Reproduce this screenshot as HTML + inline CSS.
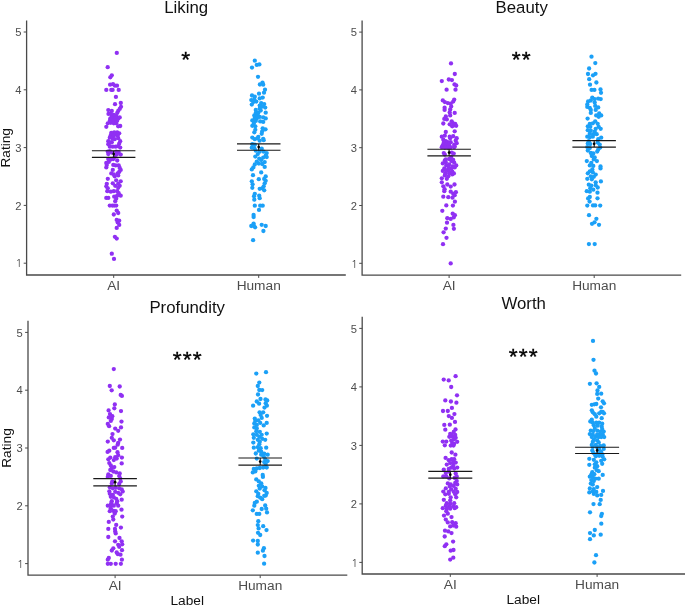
<!DOCTYPE html><html><head><meta charset="utf-8"><title>Ratings by Label</title>
<style>html,body{margin:0;padding:0;background:#fff}svg{display:block}#w{will-change:transform;width:685px;height:606px;overflow:hidden}text{font-family:"Liberation Sans",Arial,sans-serif}</style></head><body><div id="w">
<svg width="685" height="606" viewBox="0 0 685 606">
<rect width="685" height="606" fill="#fff"/>
<g id="TL">
<g fill="#9030F3">
<circle cx="111.8" cy="75.3" r="2.15"/><circle cx="115.2" cy="185.8" r="2.15"/><circle cx="119.7" cy="185.8" r="2.15"/><circle cx="106.8" cy="183.8" r="2.15"/><circle cx="118.2" cy="183.8" r="2.15"/><circle cx="106.3" cy="186.3" r="2.15"/><circle cx="116.7" cy="238.6" r="2.15"/><circle cx="112.8" cy="183.3" r="2.15"/><circle cx="110.3" cy="77.3" r="2.15"/><circle cx="114.2" cy="132.3" r="2.15"/><circle cx="117.2" cy="132.3" r="2.15"/><circle cx="111.3" cy="132.8" r="2.15"/><circle cx="118.2" cy="187.8" r="2.15"/><circle cx="106.3" cy="126.8" r="2.15"/><circle cx="114.9" cy="236.8" r="2.15"/><circle cx="119.2" cy="133.3" r="2.15"/><circle cx="107.8" cy="188.3" r="2.15"/><circle cx="118.2" cy="126.3" r="2.15"/><circle cx="120.7" cy="181.3" r="2.15"/><circle cx="120.2" cy="126.0" r="2.15"/><circle cx="116.2" cy="180.3" r="2.15"/><circle cx="115.2" cy="134.7" r="2.15"/><circle cx="110.8" cy="135.2" r="2.15"/><circle cx="113.3" cy="135.7" r="2.15"/><circle cx="117.7" cy="135.7" r="2.15"/><circle cx="107.8" cy="178.8" r="2.15"/><circle cx="107.3" cy="191.2" r="2.15"/><circle cx="113.8" cy="191.2" r="2.15"/><circle cx="117.2" cy="191.2" r="2.15"/><circle cx="107.8" cy="123.3" r="2.15"/><circle cx="113.8" cy="123.3" r="2.15"/><circle cx="116.2" cy="123.3" r="2.15"/><circle cx="110.8" cy="191.7" r="2.15"/><circle cx="110.8" cy="122.8" r="2.15"/><circle cx="107.7" cy="67.2" r="2.15"/><circle cx="109.8" cy="137.7" r="2.15"/><circle cx="118.2" cy="138.2" r="2.15"/><circle cx="118.7" cy="193.2" r="2.15"/><circle cx="112.8" cy="121.3" r="2.15"/><circle cx="114.7" cy="176.3" r="2.15"/><circle cx="112.8" cy="138.7" r="2.15"/><circle cx="109.8" cy="120.8" r="2.15"/><circle cx="117.2" cy="120.8" r="2.15"/><circle cx="113.0" cy="84.2" r="2.15"/><circle cx="114.7" cy="139.2" r="2.15"/><circle cx="114.7" cy="120.4" r="2.15"/><circle cx="118.2" cy="175.4" r="2.15"/><circle cx="110.1" cy="84.7" r="2.15"/><circle cx="112.8" cy="119.4" r="2.15"/><circle cx="113.8" cy="174.4" r="2.15"/><circle cx="114.9" cy="85.7" r="2.15"/><circle cx="117.0" cy="85.7" r="2.15"/><circle cx="120.7" cy="195.7" r="2.15"/><circle cx="117.2" cy="195.7" r="2.15"/><circle cx="115.7" cy="118.9" r="2.15"/><circle cx="108.3" cy="141.2" r="2.15"/><circle cx="120.2" cy="141.2" r="2.15"/><circle cx="118.2" cy="118.4" r="2.15"/><circle cx="110.3" cy="118.4" r="2.15"/><circle cx="111.3" cy="173.4" r="2.15"/><circle cx="117.7" cy="173.4" r="2.15"/><circle cx="114.2" cy="196.7" r="2.15"/><circle cx="116.7" cy="227.9" r="2.15"/><circle cx="111.8" cy="142.2" r="2.15"/><circle cx="119.7" cy="117.4" r="2.15"/><circle cx="110.3" cy="142.7" r="2.15"/><circle cx="106.3" cy="197.9" r="2.15"/><circle cx="108.3" cy="197.9" r="2.15"/><circle cx="113.8" cy="116.9" r="2.15"/><circle cx="119.2" cy="171.9" r="2.15"/><circle cx="119.2" cy="143.7" r="2.15"/><circle cx="116.2" cy="198.7" r="2.15"/><circle cx="111.8" cy="253.7" r="2.15"/><circle cx="116.2" cy="115.9" r="2.15"/><circle cx="111.8" cy="115.9" r="2.15"/><circle cx="108.3" cy="144.2" r="2.15"/><circle cx="106.3" cy="89.9" r="2.15"/><circle cx="111.3" cy="89.9" r="2.15"/><circle cx="112.6" cy="89.9" r="2.15"/><circle cx="118.7" cy="89.9" r="2.15"/><circle cx="113.8" cy="114.9" r="2.15"/><circle cx="112.8" cy="169.9" r="2.15"/><circle cx="120.7" cy="169.9" r="2.15"/><circle cx="119.2" cy="224.9" r="2.15"/><circle cx="108.5" cy="113.9" r="2.15"/><circle cx="118.2" cy="146.2" r="2.15"/><circle cx="115.2" cy="201.2" r="2.15"/><circle cx="110.8" cy="113.4" r="2.15"/><circle cx="109.8" cy="146.7" r="2.15"/><circle cx="112.8" cy="146.7" r="2.15"/><circle cx="115.7" cy="146.7" r="2.15"/><circle cx="117.2" cy="112.9" r="2.15"/><circle cx="119.7" cy="167.9" r="2.15"/><circle cx="106.3" cy="167.4" r="2.15"/><circle cx="117.7" cy="222.4" r="2.15"/><circle cx="120.2" cy="147.6" r="2.15"/><circle cx="114.0" cy="258.9" r="2.15"/><circle cx="118.2" cy="110.9" r="2.15"/><circle cx="111.8" cy="110.9" r="2.15"/><circle cx="119.2" cy="220.7" r="2.15"/><circle cx="115.7" cy="165.4" r="2.15"/><circle cx="118.7" cy="165.4" r="2.15"/><circle cx="108.3" cy="110.1" r="2.15"/><circle cx="106.8" cy="164.9" r="2.15"/><circle cx="113.3" cy="164.9" r="2.15"/><circle cx="116.7" cy="219.9" r="2.15"/><circle cx="109.8" cy="205.6" r="2.15"/><circle cx="112.3" cy="205.6" r="2.15"/><circle cx="114.2" cy="205.6" r="2.15"/><circle cx="116.2" cy="205.6" r="2.15"/><circle cx="119.7" cy="108.9" r="2.15"/><circle cx="109.8" cy="151.1" r="2.15"/><circle cx="107.8" cy="151.6" r="2.15"/><circle cx="116.2" cy="151.6" r="2.15"/><circle cx="115.9" cy="96.9" r="2.15"/><circle cx="116.8" cy="52.9" r="2.15"/><circle cx="106.3" cy="162.9" r="2.15"/><circle cx="118.7" cy="152.1" r="2.15"/><circle cx="111.8" cy="152.6" r="2.15"/><circle cx="108.8" cy="161.9" r="2.15"/><circle cx="121.0" cy="106.8" r="2.15"/><circle cx="108.3" cy="154.1" r="2.15"/><circle cx="117.2" cy="160.5" r="2.15"/><circle cx="116.7" cy="154.6" r="2.15"/><circle cx="120.7" cy="154.6" r="2.15"/><circle cx="110.8" cy="159.5" r="2.15"/><circle cx="113.8" cy="214.5" r="2.15"/><circle cx="116.7" cy="210.6" r="2.15"/><circle cx="115.0" cy="104.2" r="2.15"/><circle cx="108.3" cy="159.0" r="2.15"/><circle cx="113.3" cy="159.0" r="2.15"/><circle cx="120.8" cy="103.0" r="2.15"/><circle cx="118.2" cy="213.0" r="2.15"/><circle cx="114.7" cy="157.1" r="2.15"/>
</g>
<g fill="#1BA0F7">
<circle cx="264.2" cy="190.3" r="2.15"/><circle cx="263.4" cy="231.0" r="2.15"/><circle cx="261.7" cy="133.8" r="2.15"/><circle cx="259.7" cy="188.8" r="2.15"/><circle cx="262.2" cy="188.3" r="2.15"/><circle cx="258.3" cy="137.0" r="2.15"/><circle cx="252.3" cy="187.8" r="2.15"/><circle cx="262.5" cy="82.6" r="2.15"/><circle cx="252.3" cy="137.6" r="2.15"/><circle cx="254.3" cy="132.3" r="2.15"/><circle cx="255.1" cy="227.3" r="2.15"/><circle cx="258.0" cy="76.8" r="2.15"/><circle cx="257.3" cy="138.3" r="2.15"/><circle cx="262.2" cy="131.3" r="2.15"/><circle cx="263.7" cy="186.3" r="2.15"/><circle cx="263.2" cy="138.8" r="2.15"/><circle cx="254.8" cy="193.8" r="2.15"/><circle cx="251.3" cy="226.0" r="2.15"/><circle cx="265.7" cy="226.0" r="2.15"/><circle cx="253.8" cy="225.8" r="2.15"/><circle cx="254.8" cy="139.2" r="2.15"/><circle cx="259.9" cy="84.5" r="2.15"/><circle cx="263.2" cy="84.7" r="2.15"/><circle cx="255.3" cy="129.8" r="2.15"/><circle cx="261.7" cy="224.8" r="2.15"/><circle cx="263.7" cy="140.2" r="2.15"/><circle cx="265.5" cy="129.3" r="2.15"/><circle cx="252.6" cy="184.3" r="2.15"/><circle cx="259.7" cy="140.7" r="2.15"/><circle cx="259.2" cy="195.7" r="2.15"/><circle cx="254.0" cy="196.2" r="2.15"/><circle cx="253.6" cy="223.6" r="2.15"/><circle cx="262.7" cy="128.3" r="2.15"/><circle cx="264.7" cy="183.3" r="2.15"/><circle cx="259.7" cy="198.2" r="2.15"/><circle cx="255.3" cy="126.3" r="2.15"/><circle cx="251.8" cy="181.3" r="2.15"/><circle cx="252.3" cy="125.8" r="2.15"/><circle cx="265.7" cy="180.8" r="2.15"/><circle cx="252.3" cy="144.2" r="2.15"/><circle cx="265.0" cy="89.7" r="2.15"/><circle cx="254.8" cy="144.7" r="2.15"/><circle cx="254.3" cy="199.7" r="2.15"/><circle cx="253.1" cy="240.2" r="2.15"/><circle cx="258.8" cy="179.2" r="2.15"/><circle cx="264.2" cy="178.9" r="2.15"/><circle cx="253.8" cy="123.4" r="2.15"/><circle cx="252.0" cy="67.6" r="2.15"/><circle cx="264.0" cy="92.7" r="2.15"/><circle cx="251.8" cy="147.7" r="2.15"/><circle cx="253.6" cy="217.1" r="2.15"/><circle cx="263.2" cy="121.9" r="2.15"/><circle cx="254.3" cy="148.2" r="2.15"/><circle cx="260.2" cy="121.4" r="2.15"/><circle cx="265.7" cy="176.4" r="2.15"/><circle cx="259.0" cy="93.7" r="2.15"/><circle cx="261.7" cy="148.7" r="2.15"/><circle cx="255.8" cy="120.9" r="2.15"/><circle cx="252.3" cy="120.4" r="2.15"/><circle cx="253.0" cy="175.2" r="2.15"/><circle cx="256.8" cy="64.9" r="2.15"/><circle cx="253.6" cy="214.9" r="2.15"/><circle cx="252.0" cy="95.5" r="2.15"/><circle cx="259.4" cy="64.4" r="2.15"/><circle cx="255.8" cy="150.7" r="2.15"/><circle cx="254.8" cy="205.7" r="2.15"/><circle cx="260.2" cy="205.7" r="2.15"/><circle cx="262.7" cy="205.7" r="2.15"/><circle cx="265.7" cy="118.4" r="2.15"/><circle cx="256.8" cy="118.4" r="2.15"/><circle cx="254.8" cy="96.7" r="2.15"/><circle cx="259.7" cy="151.7" r="2.15"/><circle cx="263.7" cy="151.7" r="2.15"/><circle cx="254.8" cy="117.9" r="2.15"/><circle cx="263.2" cy="117.4" r="2.15"/><circle cx="261.2" cy="172.4" r="2.15"/><circle cx="262.7" cy="97.6" r="2.15"/><circle cx="259.7" cy="116.9" r="2.15"/><circle cx="266.7" cy="153.1" r="2.15"/><circle cx="259.7" cy="98.4" r="2.15"/><circle cx="257.8" cy="154.1" r="2.15"/><circle cx="254.8" cy="60.7" r="2.15"/><circle cx="254.3" cy="115.4" r="2.15"/><circle cx="257.8" cy="115.4" r="2.15"/><circle cx="254.3" cy="99.6" r="2.15"/><circle cx="259.0" cy="209.9" r="2.15"/><circle cx="251.3" cy="100.1" r="2.15"/><circle cx="251.8" cy="169.4" r="2.15"/><circle cx="265.7" cy="155.6" r="2.15"/><circle cx="256.3" cy="101.6" r="2.15"/><circle cx="255.3" cy="156.6" r="2.15"/><circle cx="255.8" cy="112.9" r="2.15"/><circle cx="253.3" cy="102.1" r="2.15"/><circle cx="266.7" cy="157.1" r="2.15"/><circle cx="265.7" cy="112.7" r="2.15"/><circle cx="258.3" cy="112.7" r="2.15"/><circle cx="253.3" cy="167.4" r="2.15"/><circle cx="263.2" cy="157.6" r="2.15"/><circle cx="264.7" cy="166.9" r="2.15"/><circle cx="261.2" cy="103.1" r="2.15"/><circle cx="259.2" cy="158.6" r="2.15"/><circle cx="264.2" cy="104.1" r="2.15"/><circle cx="260.7" cy="110.5" r="2.15"/><circle cx="251.8" cy="104.6" r="2.15"/><circle cx="255.8" cy="110.0" r="2.15"/><circle cx="261.2" cy="160.1" r="2.15"/><circle cx="254.8" cy="164.5" r="2.15"/><circle cx="259.7" cy="105.6" r="2.15"/><circle cx="262.2" cy="164.0" r="2.15"/><circle cx="258.8" cy="163.5" r="2.15"/><circle cx="262.2" cy="106.6" r="2.15"/><circle cx="256.8" cy="161.6" r="2.15"/><circle cx="264.7" cy="162.1" r="2.15"/><circle cx="265.2" cy="107.6" r="2.15"/><circle cx="259.7" cy="108.6" r="2.15"/>
</g>
<g stroke="#181818" stroke-width="1.15" fill="none">
<line x1="91.9" x2="135.4" y1="150.7" y2="150.7"/><line x1="91.9" x2="135.4" y1="157.4" y2="157.4"/><line x1="113.7" x2="113.7" y1="150.7" y2="157.4"/>
</g>
<circle cx="113.7" cy="154.1" r="1.35" fill="#000"/>
<g stroke="#181818" stroke-width="1.15" fill="none">
<line x1="237.0" x2="280.5" y1="143.9" y2="143.9"/><line x1="237.0" x2="280.5" y1="150.2" y2="150.2"/><line x1="258.7" x2="258.7" y1="143.9" y2="150.2"/>
</g>
<circle cx="258.7" cy="147.1" r="1.35" fill="#000"/>
<path d="M26.6 20.5V275.0H345.8" fill="none" stroke="#4a4a4a" stroke-width="1.3"/>
<line x1="23.7" x2="26.6" y1="263.2" y2="263.2" stroke="#4a4a4a" stroke-width="1"/>
<text x="22.4" y="267" font-size="11.2" fill="#4D4D4D" text-anchor="end" style="font-family:'NanumGothic','Liberation Sans',sans-serif">1</text>
<line x1="23.7" x2="26.6" y1="205.4" y2="205.4" stroke="#4a4a4a" stroke-width="1"/>
<text x="21.4" y="210" font-size="11.2" fill="#4D4D4D" text-anchor="end">2</text>
<line x1="23.7" x2="26.6" y1="147.6" y2="147.6" stroke="#4a4a4a" stroke-width="1"/>
<text x="21.4" y="152" font-size="11.2" fill="#4D4D4D" text-anchor="end">3</text>
<line x1="23.7" x2="26.6" y1="89.8" y2="89.8" stroke="#4a4a4a" stroke-width="1"/>
<text x="21.4" y="94" font-size="11.2" fill="#4D4D4D" text-anchor="end">4</text>
<line x1="23.7" x2="26.6" y1="32.0" y2="32.0" stroke="#4a4a4a" stroke-width="1"/>
<text x="21.4" y="36" font-size="11.2" fill="#4D4D4D" text-anchor="end">5</text>
<line x1="113.7" x2="113.7" y1="275.0" y2="277.9" stroke="#4a4a4a" stroke-width="1"/>
<text x="113.7" y="290.0" font-size="13.7" fill="#4D4D4D" text-anchor="middle">AI</text>
<line x1="258.7" x2="258.7" y1="275.0" y2="277.9" stroke="#4a4a4a" stroke-width="1"/>
<text x="258.7" y="290.0" font-size="13.7" fill="#4D4D4D" text-anchor="middle">Human</text>
<text x="186.2" y="12.7" font-size="16.8" fill="#111" text-anchor="middle">Liking</text>
<text x="186.3" y="67" font-size="22.8" fill="#000" stroke="#000" stroke-width="0.35" letter-spacing="1.15" text-anchor="middle">*</text>
<text transform="translate(10.2,147.8) rotate(-90)" font-size="13.7" fill="#111" text-anchor="middle">Rating</text>
</g>
<g id="TR">
<g fill="#9030F3">
<circle cx="451.9" cy="80.1" r="2.15"/><circle cx="448.8" cy="79.5" r="2.15"/><circle cx="447.3" cy="184.5" r="2.15"/><circle cx="454.5" cy="184.5" r="2.15"/><circle cx="441.8" cy="81.1" r="2.15"/><circle cx="454.7" cy="131.3" r="2.15"/><circle cx="443.3" cy="186.3" r="2.15"/><circle cx="450.7" cy="186.6" r="2.15"/><circle cx="445.8" cy="132.0" r="2.15"/><circle cx="441.8" cy="182.3" r="2.15"/><circle cx="443.6" cy="232.3" r="2.15"/><circle cx="446.5" cy="237.8" r="2.15"/><circle cx="452.2" cy="126.3" r="2.15"/><circle cx="456.2" cy="125.8" r="2.15"/><circle cx="444.6" cy="189.2" r="2.15"/><circle cx="454.5" cy="84.4" r="2.15"/><circle cx="454.2" cy="125.3" r="2.15"/><circle cx="456.2" cy="85.5" r="2.15"/><circle cx="449.7" cy="124.3" r="2.15"/><circle cx="444.8" cy="135.7" r="2.15"/><circle cx="454.8" cy="74.0" r="2.15"/><circle cx="455.2" cy="123.8" r="2.15"/><circle cx="446.8" cy="178.8" r="2.15"/><circle cx="453.9" cy="228.8" r="2.15"/><circle cx="453.2" cy="136.2" r="2.15"/><circle cx="444.3" cy="191.2" r="2.15"/><circle cx="445.8" cy="228.6" r="2.15"/><circle cx="443.3" cy="123.5" r="2.15"/><circle cx="441.8" cy="178.3" r="2.15"/><circle cx="453.2" cy="123.3" r="2.15"/><circle cx="441.8" cy="136.7" r="2.15"/><circle cx="449.7" cy="136.7" r="2.15"/><circle cx="450.7" cy="191.7" r="2.15"/><circle cx="455.9" cy="192.2" r="2.15"/><circle cx="456.7" cy="138.2" r="2.15"/><circle cx="450.2" cy="138.2" r="2.15"/><circle cx="451.7" cy="121.3" r="2.15"/><circle cx="448.3" cy="176.3" r="2.15"/><circle cx="453.2" cy="193.7" r="2.15"/><circle cx="443.0" cy="244.2" r="2.15"/><circle cx="444.8" cy="175.4" r="2.15"/><circle cx="446.6" cy="89.7" r="2.15"/><circle cx="455.5" cy="89.7" r="2.15"/><circle cx="443.3" cy="139.7" r="2.15"/><circle cx="453.4" cy="224.9" r="2.15"/><circle cx="454.7" cy="195.2" r="2.15"/><circle cx="446.8" cy="119.4" r="2.15"/><circle cx="452.2" cy="174.4" r="2.15"/><circle cx="455.7" cy="140.7" r="2.15"/><circle cx="444.3" cy="118.9" r="2.15"/><circle cx="445.8" cy="141.2" r="2.15"/><circle cx="445.3" cy="173.4" r="2.15"/><circle cx="449.2" cy="173.4" r="2.15"/><circle cx="453.9" cy="173.4" r="2.15"/><circle cx="443.3" cy="196.7" r="2.15"/><circle cx="447.8" cy="142.2" r="2.15"/><circle cx="450.7" cy="142.2" r="2.15"/><circle cx="448.3" cy="197.2" r="2.15"/><circle cx="447.0" cy="222.7" r="2.15"/><circle cx="450.2" cy="172.4" r="2.15"/><circle cx="443.8" cy="142.7" r="2.15"/><circle cx="452.5" cy="197.7" r="2.15"/><circle cx="456.7" cy="143.2" r="2.15"/><circle cx="445.8" cy="116.4" r="2.15"/><circle cx="452.2" cy="171.4" r="2.15"/><circle cx="449.2" cy="143.7" r="2.15"/><circle cx="442.8" cy="170.9" r="2.15"/><circle cx="448.3" cy="170.9" r="2.15"/><circle cx="450.2" cy="115.4" r="2.15"/><circle cx="445.8" cy="144.7" r="2.15"/><circle cx="454.2" cy="144.7" r="2.15"/><circle cx="445.8" cy="170.1" r="2.15"/><circle cx="442.8" cy="145.2" r="2.15"/><circle cx="449.2" cy="145.2" r="2.15"/><circle cx="450.7" cy="218.9" r="2.15"/><circle cx="454.7" cy="146.2" r="2.15"/><circle cx="446.8" cy="146.2" r="2.15"/><circle cx="451.0" cy="63.4" r="2.15"/><circle cx="444.3" cy="168.4" r="2.15"/><circle cx="451.2" cy="168.4" r="2.15"/><circle cx="454.9" cy="201.7" r="2.15"/><circle cx="447.3" cy="218.2" r="2.15"/><circle cx="454.7" cy="112.9" r="2.15"/><circle cx="448.8" cy="167.9" r="2.15"/><circle cx="441.8" cy="147.2" r="2.15"/><circle cx="454.2" cy="147.2" r="2.15"/><circle cx="447.8" cy="147.5" r="2.15"/><circle cx="450.7" cy="147.5" r="2.15"/><circle cx="449.7" cy="112.4" r="2.15"/><circle cx="453.7" cy="217.4" r="2.15"/><circle cx="454.7" cy="167.4" r="2.15"/><circle cx="444.8" cy="147.6" r="2.15"/><circle cx="452.7" cy="166.4" r="2.15"/><circle cx="456.2" cy="165.4" r="2.15"/><circle cx="446.3" cy="165.4" r="2.15"/><circle cx="454.2" cy="99.6" r="2.15"/><circle cx="454.9" cy="215.2" r="2.15"/><circle cx="444.6" cy="109.9" r="2.15"/><circle cx="442.8" cy="100.4" r="2.15"/><circle cx="446.3" cy="205.4" r="2.15"/><circle cx="450.2" cy="109.4" r="2.15"/><circle cx="449.2" cy="164.4" r="2.15"/><circle cx="452.9" cy="205.6" r="2.15"/><circle cx="452.7" cy="213.7" r="2.15"/><circle cx="442.8" cy="163.4" r="2.15"/><circle cx="453.2" cy="101.6" r="2.15"/><circle cx="444.8" cy="102.1" r="2.15"/><circle cx="444.6" cy="107.7" r="2.15"/><circle cx="454.2" cy="162.7" r="2.15"/><circle cx="445.8" cy="162.4" r="2.15"/><circle cx="451.7" cy="152.6" r="2.15"/><circle cx="447.8" cy="103.1" r="2.15"/><circle cx="443.8" cy="153.1" r="2.15"/><circle cx="451.2" cy="106.5" r="2.15"/><circle cx="450.7" cy="103.6" r="2.15"/><circle cx="453.7" cy="153.6" r="2.15"/><circle cx="451.7" cy="161.2" r="2.15"/><circle cx="442.3" cy="210.8" r="2.15"/><circle cx="444.8" cy="160.5" r="2.15"/><circle cx="444.8" cy="154.6" r="2.15"/><circle cx="453.2" cy="160.0" r="2.15"/><circle cx="445.8" cy="159.5" r="2.15"/><circle cx="449.2" cy="159.0" r="2.15"/><circle cx="451.2" cy="157.1" r="2.15"/><circle cx="450.7" cy="263.4" r="2.15"/>
</g>
<g fill="#1BA0F7">
<circle cx="599.0" cy="224.8" r="2.15"/><circle cx="593.0" cy="75.3" r="2.15"/><circle cx="591.8" cy="179.3" r="2.15"/><circle cx="588.0" cy="74.0" r="2.15"/><circle cx="595.5" cy="73.8" r="2.15"/><circle cx="589.8" cy="123.8" r="2.15"/><circle cx="597.7" cy="123.8" r="2.15"/><circle cx="587.3" cy="178.8" r="2.15"/><circle cx="592.0" cy="223.8" r="2.15"/><circle cx="587.8" cy="126.3" r="2.15"/><circle cx="600.9" cy="181.4" r="2.15"/><circle cx="592.8" cy="123.3" r="2.15"/><circle cx="590.3" cy="126.8" r="2.15"/><circle cx="598.7" cy="126.8" r="2.15"/><circle cx="595.7" cy="182.3" r="2.15"/><circle cx="594.5" cy="222.3" r="2.15"/><circle cx="593.8" cy="176.8" r="2.15"/><circle cx="595.2" cy="121.3" r="2.15"/><circle cx="590.8" cy="176.3" r="2.15"/><circle cx="595.7" cy="128.8" r="2.15"/><circle cx="600.7" cy="128.8" r="2.15"/><circle cx="589.2" cy="79.2" r="2.15"/><circle cx="588.8" cy="184.7" r="2.15"/><circle cx="587.8" cy="130.2" r="2.15"/><circle cx="595.7" cy="185.2" r="2.15"/><circle cx="595.7" cy="174.6" r="2.15"/><circle cx="590.8" cy="130.7" r="2.15"/><circle cx="591.3" cy="185.7" r="2.15"/><circle cx="596.4" cy="218.8" r="2.15"/><circle cx="587.6" cy="118.6" r="2.15"/><circle cx="589.1" cy="68.5" r="2.15"/><circle cx="587.8" cy="173.3" r="2.15"/><circle cx="594.7" cy="131.7" r="2.15"/><circle cx="596.4" cy="82.5" r="2.15"/><circle cx="597.7" cy="187.5" r="2.15"/><circle cx="592.8" cy="172.3" r="2.15"/><circle cx="598.7" cy="116.8" r="2.15"/><circle cx="590.3" cy="188.2" r="2.15"/><circle cx="589.8" cy="171.3" r="2.15"/><circle cx="589.8" cy="133.7" r="2.15"/><circle cx="593.3" cy="134.2" r="2.15"/><circle cx="596.7" cy="134.2" r="2.15"/><circle cx="601.2" cy="115.4" r="2.15"/><circle cx="596.2" cy="115.4" r="2.15"/><circle cx="590.0" cy="84.7" r="2.15"/><circle cx="593.3" cy="189.7" r="2.15"/><circle cx="589.0" cy="215.2" r="2.15"/><circle cx="592.3" cy="169.4" r="2.15"/><circle cx="586.8" cy="191.2" r="2.15"/><circle cx="599.2" cy="113.4" r="2.15"/><circle cx="600.5" cy="168.4" r="2.15"/><circle cx="587.3" cy="136.7" r="2.15"/><circle cx="592.8" cy="136.7" r="2.15"/><circle cx="589.8" cy="191.7" r="2.15"/><circle cx="595.3" cy="63.1" r="2.15"/><circle cx="590.8" cy="112.9" r="2.15"/><circle cx="589.8" cy="137.2" r="2.15"/><circle cx="601.2" cy="137.7" r="2.15"/><circle cx="597.5" cy="192.7" r="2.15"/><circle cx="600.5" cy="166.4" r="2.15"/><circle cx="593.3" cy="165.9" r="2.15"/><circle cx="598.2" cy="139.2" r="2.15"/><circle cx="600.5" cy="89.5" r="2.15"/><circle cx="589.8" cy="165.4" r="2.15"/><circle cx="591.6" cy="89.9" r="2.15"/><circle cx="594.4" cy="89.9" r="2.15"/><circle cx="590.8" cy="109.9" r="2.15"/><circle cx="595.7" cy="109.9" r="2.15"/><circle cx="588.8" cy="141.2" r="2.15"/><circle cx="589.8" cy="197.0" r="2.15"/><circle cx="589.8" cy="107.9" r="2.15"/><circle cx="591.3" cy="162.9" r="2.15"/><circle cx="598.2" cy="107.4" r="2.15"/><circle cx="597.7" cy="142.6" r="2.15"/><circle cx="601.0" cy="92.8" r="2.15"/><circle cx="587.3" cy="106.9" r="2.15"/><circle cx="591.5" cy="56.7" r="2.15"/><circle cx="597.5" cy="198.3" r="2.15"/><circle cx="588.1" cy="198.4" r="2.15"/><circle cx="587.8" cy="143.6" r="2.15"/><circle cx="596.9" cy="161.1" r="2.15"/><circle cx="586.8" cy="161.1" r="2.15"/><circle cx="595.2" cy="105.9" r="2.15"/><circle cx="590.3" cy="144.1" r="2.15"/><circle cx="588.9" cy="244.1" r="2.15"/><circle cx="594.7" cy="244.1" r="2.15"/><circle cx="599.7" cy="144.6" r="2.15"/><circle cx="587.3" cy="104.4" r="2.15"/><circle cx="593.8" cy="159.4" r="2.15"/><circle cx="589.6" cy="201.6" r="2.15"/><circle cx="587.3" cy="147.1" r="2.15"/><circle cx="594.7" cy="102.4" r="2.15"/><circle cx="594.7" cy="157.4" r="2.15"/><circle cx="592.3" cy="97.6" r="2.15"/><circle cx="600.2" cy="147.6" r="2.15"/><circle cx="589.8" cy="148.1" r="2.15"/><circle cx="588.1" cy="101.5" r="2.15"/><circle cx="598.2" cy="98.6" r="2.15"/><circle cx="591.8" cy="156.0" r="2.15"/><circle cx="594.7" cy="99.1" r="2.15"/><circle cx="600.7" cy="99.1" r="2.15"/><circle cx="590.8" cy="100.5" r="2.15"/><circle cx="598.2" cy="149.6" r="2.15"/><circle cx="593.0" cy="205.4" r="2.15"/><circle cx="595.2" cy="205.4" r="2.15"/><circle cx="587.8" cy="150.6" r="2.15"/><circle cx="587.3" cy="205.6" r="2.15"/><circle cx="600.2" cy="205.6" r="2.15"/><circle cx="593.3" cy="153.5" r="2.15"/><circle cx="597.2" cy="151.6" r="2.15"/><circle cx="590.8" cy="153.0" r="2.15"/>
</g>
<g stroke="#181818" stroke-width="1.15" fill="none">
<line x1="427.4" x2="470.9" y1="149.2" y2="149.2"/><line x1="427.4" x2="470.9" y1="155.9" y2="155.9"/><line x1="449.1" x2="449.1" y1="149.2" y2="155.9"/>
</g>
<circle cx="449.1" cy="152.6" r="1.35" fill="#000"/>
<g stroke="#181818" stroke-width="1.15" fill="none">
<line x1="572.4" x2="615.9" y1="140.6" y2="140.6"/><line x1="572.4" x2="615.9" y1="147.1" y2="147.1"/><line x1="594.2" x2="594.2" y1="140.6" y2="147.1"/>
</g>
<circle cx="594.2" cy="143.8" r="1.35" fill="#000"/>
<path d="M362.1 20.5V275.1H681.2" fill="none" stroke="#4a4a4a" stroke-width="1.3"/>
<line x1="359.2" x2="362.1" y1="263.3" y2="263.3" stroke="#4a4a4a" stroke-width="1"/>
<text x="357.9" y="268" font-size="11.2" fill="#4D4D4D" text-anchor="end" style="font-family:'NanumGothic','Liberation Sans',sans-serif">1</text>
<line x1="359.2" x2="362.1" y1="205.5" y2="205.5" stroke="#4a4a4a" stroke-width="1"/>
<text x="356.9" y="210" font-size="11.2" fill="#4D4D4D" text-anchor="end">2</text>
<line x1="359.2" x2="362.1" y1="147.7" y2="147.7" stroke="#4a4a4a" stroke-width="1"/>
<text x="356.9" y="152" font-size="11.2" fill="#4D4D4D" text-anchor="end">3</text>
<line x1="359.2" x2="362.1" y1="89.9" y2="89.9" stroke="#4a4a4a" stroke-width="1"/>
<text x="356.9" y="94" font-size="11.2" fill="#4D4D4D" text-anchor="end">4</text>
<line x1="359.2" x2="362.1" y1="32.1" y2="32.1" stroke="#4a4a4a" stroke-width="1"/>
<text x="356.9" y="36" font-size="11.2" fill="#4D4D4D" text-anchor="end">5</text>
<line x1="449.1" x2="449.1" y1="275.1" y2="278.0" stroke="#4a4a4a" stroke-width="1"/>
<text x="449.1" y="290.1" font-size="13.7" fill="#4D4D4D" text-anchor="middle">AI</text>
<line x1="594.2" x2="594.2" y1="275.1" y2="278.0" stroke="#4a4a4a" stroke-width="1"/>
<text x="594.2" y="290.1" font-size="13.7" fill="#4D4D4D" text-anchor="middle">Human</text>
<text x="521.7" y="12.7" font-size="16.8" fill="#111" text-anchor="middle">Beauty</text>
<text x="521.8" y="67" font-size="22.8" fill="#000" stroke="#000" stroke-width="0.35" letter-spacing="1.15" text-anchor="middle">**</text>
</g>
<g id="BL">
<g fill="#9030F3">
<circle cx="112.8" cy="494.8" r="2.15"/><circle cx="118.2" cy="544.8" r="2.15"/><circle cx="111.7" cy="390.3" r="2.15"/><circle cx="113.8" cy="440.3" r="2.15"/><circle cx="120.0" cy="439.6" r="2.15"/><circle cx="120.2" cy="494.3" r="2.15"/><circle cx="122.2" cy="544.3" r="2.15"/><circle cx="109.8" cy="493.8" r="2.15"/><circle cx="107.8" cy="441.6" r="2.15"/><circle cx="110.8" cy="496.8" r="2.15"/><circle cx="119.2" cy="546.8" r="2.15"/><circle cx="111.8" cy="437.8" r="2.15"/><circle cx="118.2" cy="492.8" r="2.15"/><circle cx="113.8" cy="497.3" r="2.15"/><circle cx="118.2" cy="442.8" r="2.15"/><circle cx="115.2" cy="491.8" r="2.15"/><circle cx="113.3" cy="548.3" r="2.15"/><circle cx="122.7" cy="491.6" r="2.15"/><circle cx="119.7" cy="386.5" r="2.15"/><circle cx="109.3" cy="491.3" r="2.15"/><circle cx="115.0" cy="541.3" r="2.15"/><circle cx="121.7" cy="541.3" r="2.15"/><circle cx="116.2" cy="498.8" r="2.15"/><circle cx="109.8" cy="386.0" r="2.15"/><circle cx="117.7" cy="444.7" r="2.15"/><circle cx="121.7" cy="499.7" r="2.15"/><circle cx="120.7" cy="394.9" r="2.15"/><circle cx="122.0" cy="550.2" r="2.15"/><circle cx="111.8" cy="550.5" r="2.15"/><circle cx="121.7" cy="489.3" r="2.15"/><circle cx="112.5" cy="434.1" r="2.15"/><circle cx="121.9" cy="395.9" r="2.15"/><circle cx="117.2" cy="501.2" r="2.15"/><circle cx="111.8" cy="501.2" r="2.15"/><circle cx="112.8" cy="488.3" r="2.15"/><circle cx="119.2" cy="488.3" r="2.15"/><circle cx="119.5" cy="538.0" r="2.15"/><circle cx="115.7" cy="487.8" r="2.15"/><circle cx="116.7" cy="552.5" r="2.15"/><circle cx="109.8" cy="487.3" r="2.15"/><circle cx="115.2" cy="447.7" r="2.15"/><circle cx="113.8" cy="447.9" r="2.15"/><circle cx="122.2" cy="447.9" r="2.15"/><circle cx="108.3" cy="537.0" r="2.15"/><circle cx="111.3" cy="503.2" r="2.15"/><circle cx="116.7" cy="503.2" r="2.15"/><circle cx="118.2" cy="430.8" r="2.15"/><circle cx="117.9" cy="554.2" r="2.15"/><circle cx="120.5" cy="554.7" r="2.15"/><circle cx="110.8" cy="505.2" r="2.15"/><circle cx="109.3" cy="450.7" r="2.15"/><circle cx="107.8" cy="505.7" r="2.15"/><circle cx="113.8" cy="505.7" r="2.15"/><circle cx="118.2" cy="505.7" r="2.15"/><circle cx="119.2" cy="483.9" r="2.15"/><circle cx="115.2" cy="428.6" r="2.15"/><circle cx="111.8" cy="483.4" r="2.15"/><circle cx="115.7" cy="533.4" r="2.15"/><circle cx="107.6" cy="451.9" r="2.15"/><circle cx="117.5" cy="452.2" r="2.15"/><circle cx="121.0" cy="427.4" r="2.15"/><circle cx="108.8" cy="557.9" r="2.15"/><circle cx="110.8" cy="508.2" r="2.15"/><circle cx="120.7" cy="481.4" r="2.15"/><circle cx="112.3" cy="481.4" r="2.15"/><circle cx="115.2" cy="531.4" r="2.15"/><circle cx="109.1" cy="426.2" r="2.15"/><circle cx="114.8" cy="404.5" r="2.15"/><circle cx="121.5" cy="509.7" r="2.15"/><circle cx="107.8" cy="559.7" r="2.15"/><circle cx="121.9" cy="559.7" r="2.15"/><circle cx="118.2" cy="455.2" r="2.15"/><circle cx="113.3" cy="510.9" r="2.15"/><circle cx="107.8" cy="423.9" r="2.15"/><circle cx="108.3" cy="528.9" r="2.15"/><circle cx="115.0" cy="528.9" r="2.15"/><circle cx="109.8" cy="511.2" r="2.15"/><circle cx="115.7" cy="511.2" r="2.15"/><circle cx="120.2" cy="478.4" r="2.15"/><circle cx="115.2" cy="457.2" r="2.15"/><circle cx="120.9" cy="527.6" r="2.15"/><circle cx="110.3" cy="457.6" r="2.15"/><circle cx="121.9" cy="457.6" r="2.15"/><circle cx="107.8" cy="476.9" r="2.15"/><circle cx="114.3" cy="408.3" r="2.15"/><circle cx="121.5" cy="421.6" r="2.15"/><circle cx="116.7" cy="458.6" r="2.15"/><circle cx="114.8" cy="513.6" r="2.15"/><circle cx="107.8" cy="563.8" r="2.15"/><circle cx="110.8" cy="563.8" r="2.15"/><circle cx="115.7" cy="563.8" r="2.15"/><circle cx="120.9" cy="563.8" r="2.15"/><circle cx="110.8" cy="420.9" r="2.15"/><circle cx="119.2" cy="475.9" r="2.15"/><circle cx="110.8" cy="475.9" r="2.15"/><circle cx="108.3" cy="459.3" r="2.15"/><circle cx="116.2" cy="524.9" r="2.15"/><circle cx="113.8" cy="460.1" r="2.15"/><circle cx="108.6" cy="410.4" r="2.15"/><circle cx="108.3" cy="474.4" r="2.15"/><circle cx="113.8" cy="369.1" r="2.15"/><circle cx="111.8" cy="418.9" r="2.15"/><circle cx="121.0" cy="411.1" r="2.15"/><circle cx="119.7" cy="473.4" r="2.15"/><circle cx="112.8" cy="516.6" r="2.15"/><circle cx="122.2" cy="516.6" r="2.15"/><circle cx="108.8" cy="417.4" r="2.15"/><circle cx="116.2" cy="472.4" r="2.15"/><circle cx="108.8" cy="521.9" r="2.15"/><circle cx="109.3" cy="463.1" r="2.15"/><circle cx="121.7" cy="463.4" r="2.15"/><circle cx="113.3" cy="471.5" r="2.15"/><circle cx="112.3" cy="416.2" r="2.15"/><circle cx="110.0" cy="414.1" r="2.15"/><circle cx="113.3" cy="519.6" r="2.15"/><circle cx="110.3" cy="470.0" r="2.15"/><circle cx="111.8" cy="468.0" r="2.15"/><circle cx="114.3" cy="467.1" r="2.15"/><circle cx="110.8" cy="465.5" r="2.15"/>
</g>
<g fill="#1BA0F7">
<circle cx="259.3" cy="390.0" r="2.15"/><circle cx="262.2" cy="390.1" r="2.15"/><circle cx="265.2" cy="439.8" r="2.15"/><circle cx="257.8" cy="439.8" r="2.15"/><circle cx="256.3" cy="491.3" r="2.15"/><circle cx="266.7" cy="493.0" r="2.15"/><circle cx="257.8" cy="541.0" r="2.15"/><circle cx="262.2" cy="438.8" r="2.15"/><circle cx="253.1" cy="540.6" r="2.15"/><circle cx="264.5" cy="490.3" r="2.15"/><circle cx="259.8" cy="441.8" r="2.15"/><circle cx="258.3" cy="493.8" r="2.15"/><circle cx="253.8" cy="437.8" r="2.15"/><circle cx="257.8" cy="544.5" r="2.15"/><circle cx="253.3" cy="442.6" r="2.15"/><circle cx="259.3" cy="436.8" r="2.15"/><circle cx="259.8" cy="488.6" r="2.15"/><circle cx="265.7" cy="495.6" r="2.15"/><circle cx="264.2" cy="495.8" r="2.15"/><circle cx="257.8" cy="386.0" r="2.15"/><circle cx="265.5" cy="488.0" r="2.15"/><circle cx="259.3" cy="444.2" r="2.15"/><circle cx="257.8" cy="496.2" r="2.15"/><circle cx="258.0" cy="394.5" r="2.15"/><circle cx="261.7" cy="434.8" r="2.15"/><circle cx="256.8" cy="434.8" r="2.15"/><circle cx="253.3" cy="434.3" r="2.15"/><circle cx="262.2" cy="486.3" r="2.15"/><circle cx="260.2" cy="497.7" r="2.15"/><circle cx="258.8" cy="485.8" r="2.15"/><circle cx="263.9" cy="548.2" r="2.15"/><circle cx="266.7" cy="433.6" r="2.15"/><circle cx="260.2" cy="535.0" r="2.15"/><circle cx="257.8" cy="447.2" r="2.15"/><circle cx="262.2" cy="499.2" r="2.15"/><circle cx="259.3" cy="382.6" r="2.15"/><circle cx="253.8" cy="447.7" r="2.15"/><circle cx="266.2" cy="447.7" r="2.15"/><circle cx="259.8" cy="431.8" r="2.15"/><circle cx="260.7" cy="448.2" r="2.15"/><circle cx="256.3" cy="431.3" r="2.15"/><circle cx="261.2" cy="483.3" r="2.15"/><circle cx="262.9" cy="550.7" r="2.15"/><circle cx="260.5" cy="399.0" r="2.15"/><circle cx="258.0" cy="532.8" r="2.15"/><circle cx="265.5" cy="399.4" r="2.15"/><circle cx="256.8" cy="501.7" r="2.15"/><circle cx="267.2" cy="400.5" r="2.15"/><circle cx="258.8" cy="481.4" r="2.15"/><circle cx="258.8" cy="450.7" r="2.15"/><circle cx="257.8" cy="552.7" r="2.15"/><circle cx="254.8" cy="502.9" r="2.15"/><circle cx="256.8" cy="401.5" r="2.15"/><circle cx="256.8" cy="428.4" r="2.15"/><circle cx="261.2" cy="451.7" r="2.15"/><circle cx="266.5" cy="530.1" r="2.15"/><circle cx="254.3" cy="427.4" r="2.15"/><circle cx="256.3" cy="479.4" r="2.15"/><circle cx="265.7" cy="403.2" r="2.15"/><circle cx="255.8" cy="453.5" r="2.15"/><circle cx="265.2" cy="505.5" r="2.15"/><circle cx="258.6" cy="528.4" r="2.15"/><circle cx="259.1" cy="403.7" r="2.15"/><circle cx="264.2" cy="453.7" r="2.15"/><circle cx="254.3" cy="505.7" r="2.15"/><circle cx="264.5" cy="556.0" r="2.15"/><circle cx="263.7" cy="425.4" r="2.15"/><circle cx="267.7" cy="454.7" r="2.15"/><circle cx="261.2" cy="454.7" r="2.15"/><circle cx="256.8" cy="424.9" r="2.15"/><circle cx="262.9" cy="476.9" r="2.15"/><circle cx="266.9" cy="405.7" r="2.15"/><circle cx="253.1" cy="405.7" r="2.15"/><circle cx="263.2" cy="526.2" r="2.15"/><circle cx="263.7" cy="456.2" r="2.15"/><circle cx="256.3" cy="373.6" r="2.15"/><circle cx="254.3" cy="423.4" r="2.15"/><circle cx="266.2" cy="508.7" r="2.15"/><circle cx="257.8" cy="525.1" r="2.15"/><circle cx="261.7" cy="509.0" r="2.15"/><circle cx="260.2" cy="422.9" r="2.15"/><circle cx="266.7" cy="422.9" r="2.15"/><circle cx="262.7" cy="474.9" r="2.15"/><circle cx="264.5" cy="407.6" r="2.15"/><circle cx="266.0" cy="372.2" r="2.15"/><circle cx="252.8" cy="510.3" r="2.15"/><circle cx="256.8" cy="458.6" r="2.15"/><circle cx="255.3" cy="420.9" r="2.15"/><circle cx="265.2" cy="459.1" r="2.15"/><circle cx="258.3" cy="420.4" r="2.15"/><circle cx="252.8" cy="472.4" r="2.15"/><circle cx="267.0" cy="512.4" r="2.15"/><circle cx="255.3" cy="471.4" r="2.15"/><circle cx="258.3" cy="521.2" r="2.15"/><circle cx="267.7" cy="461.1" r="2.15"/><circle cx="254.8" cy="418.6" r="2.15"/><circle cx="264.1" cy="563.7" r="2.15"/><circle cx="256.8" cy="513.9" r="2.15"/><circle cx="259.3" cy="513.9" r="2.15"/><circle cx="261.7" cy="417.9" r="2.15"/><circle cx="264.2" cy="462.1" r="2.15"/><circle cx="259.6" cy="412.3" r="2.15"/><circle cx="263.2" cy="412.3" r="2.15"/><circle cx="253.8" cy="468.9" r="2.15"/><circle cx="256.8" cy="468.5" r="2.15"/><circle cx="259.8" cy="468.0" r="2.15"/><circle cx="265.7" cy="464.1" r="2.15"/><circle cx="267.0" cy="415.8" r="2.15"/><circle cx="263.2" cy="467.5" r="2.15"/><circle cx="266.7" cy="467.5" r="2.15"/><circle cx="260.7" cy="414.9" r="2.15"/>
</g>
<g stroke="#181818" stroke-width="1.15" fill="none">
<line x1="93.3" x2="136.9" y1="478.6" y2="478.6"/><line x1="93.3" x2="136.9" y1="485.9" y2="485.9"/><line x1="115.1" x2="115.1" y1="478.6" y2="485.9"/>
</g>
<circle cx="115.1" cy="482.2" r="1.35" fill="#000"/>
<g stroke="#181818" stroke-width="1.15" fill="none">
<line x1="238.4" x2="282.0" y1="458.0" y2="458.0"/><line x1="238.4" x2="282.0" y1="465.1" y2="465.1"/><line x1="260.2" x2="260.2" y1="458.0" y2="465.1"/>
</g>
<circle cx="260.2" cy="461.6" r="1.35" fill="#000"/>
<path d="M28.0 320.8V575.2H347.3" fill="none" stroke="#4a4a4a" stroke-width="1.3"/>
<line x1="25.1" x2="28.0" y1="563.6" y2="563.6" stroke="#4a4a4a" stroke-width="1"/>
<text x="23.8" y="568" font-size="11.2" fill="#4D4D4D" text-anchor="end" style="font-family:'NanumGothic','Liberation Sans',sans-serif">1</text>
<line x1="25.1" x2="28.0" y1="505.8" y2="505.8" stroke="#4a4a4a" stroke-width="1"/>
<text x="22.8" y="510" font-size="11.2" fill="#4D4D4D" text-anchor="end">2</text>
<line x1="25.1" x2="28.0" y1="448.0" y2="448.0" stroke="#4a4a4a" stroke-width="1"/>
<text x="22.8" y="452" font-size="11.2" fill="#4D4D4D" text-anchor="end">3</text>
<line x1="25.1" x2="28.0" y1="390.2" y2="390.2" stroke="#4a4a4a" stroke-width="1"/>
<text x="22.8" y="394" font-size="11.2" fill="#4D4D4D" text-anchor="end">4</text>
<line x1="25.1" x2="28.0" y1="332.4" y2="332.4" stroke="#4a4a4a" stroke-width="1"/>
<text x="22.8" y="337" font-size="11.2" fill="#4D4D4D" text-anchor="end">5</text>
<line x1="115.1" x2="115.1" y1="575.2" y2="578.1" stroke="#4a4a4a" stroke-width="1"/>
<text x="115.1" y="590.2" font-size="13.7" fill="#4D4D4D" text-anchor="middle">AI</text>
<line x1="260.2" x2="260.2" y1="575.2" y2="578.1" stroke="#4a4a4a" stroke-width="1"/>
<text x="260.2" y="590.2" font-size="13.7" fill="#4D4D4D" text-anchor="middle">Human</text>
<text x="187.2" y="312.5" font-size="16.8" fill="#111" text-anchor="middle">Profundity</text>
<text x="187.8" y="367" font-size="22.8" fill="#000" stroke="#000" stroke-width="0.35" letter-spacing="1.15" text-anchor="middle">***</text>
<text transform="translate(10.9,448.0) rotate(-90)" font-size="13.7" fill="#111" text-anchor="middle">Rating</text>
<text x="187.2" y="604.7" font-size="13.7" fill="#111" text-anchor="middle">Label</text>
</g>
<g id="BR">
<g fill="#9030F3">
<circle cx="457.0" cy="395.3" r="2.15"/><circle cx="444.8" cy="445.3" r="2.15"/><circle cx="453.1" cy="541.6" r="2.15"/><circle cx="450.7" cy="445.6" r="2.15"/><circle cx="453.5" cy="445.6" r="2.15"/><circle cx="450.7" cy="497.3" r="2.15"/><circle cx="456.2" cy="497.3" r="2.15"/><circle cx="454.2" cy="443.8" r="2.15"/><circle cx="443.8" cy="499.8" r="2.15"/><circle cx="452.2" cy="443.0" r="2.15"/><circle cx="450.2" cy="500.3" r="2.15"/><circle cx="446.3" cy="544.3" r="2.15"/><circle cx="457.2" cy="441.8" r="2.15"/><circle cx="442.8" cy="441.6" r="2.15"/><circle cx="446.3" cy="441.6" r="2.15"/><circle cx="445.3" cy="494.3" r="2.15"/><circle cx="455.2" cy="494.3" r="2.15"/><circle cx="448.8" cy="493.8" r="2.15"/><circle cx="444.8" cy="546.2" r="2.15"/><circle cx="451.2" cy="440.6" r="2.15"/><circle cx="446.8" cy="503.2" r="2.15"/><circle cx="454.2" cy="503.2" r="2.15"/><circle cx="445.3" cy="400.4" r="2.15"/><circle cx="444.7" cy="536.5" r="2.15"/><circle cx="454.2" cy="439.3" r="2.15"/><circle cx="450.2" cy="503.7" r="2.15"/><circle cx="457.2" cy="492.0" r="2.15"/><circle cx="448.8" cy="491.8" r="2.15"/><circle cx="453.7" cy="491.8" r="2.15"/><circle cx="443.3" cy="491.6" r="2.15"/><circle cx="450.9" cy="401.5" r="2.15"/><circle cx="455.7" cy="437.8" r="2.15"/><circle cx="451.7" cy="452.5" r="2.15"/><circle cx="456.4" cy="402.7" r="2.15"/><circle cx="445.8" cy="505.7" r="2.15"/><circle cx="451.2" cy="387.0" r="2.15"/><circle cx="453.5" cy="550.0" r="2.15"/><circle cx="449.3" cy="436.8" r="2.15"/><circle cx="452.7" cy="436.8" r="2.15"/><circle cx="449.3" cy="506.2" r="2.15"/><circle cx="453.2" cy="506.2" r="2.15"/><circle cx="451.2" cy="489.3" r="2.15"/><circle cx="450.7" cy="550.7" r="2.15"/><circle cx="451.5" cy="533.1" r="2.15"/><circle cx="455.7" cy="488.8" r="2.15"/><circle cx="456.2" cy="507.2" r="2.15"/><circle cx="445.8" cy="488.4" r="2.15"/><circle cx="455.4" cy="454.7" r="2.15"/><circle cx="455.2" cy="434.9" r="2.15"/><circle cx="451.7" cy="434.9" r="2.15"/><circle cx="442.8" cy="508.2" r="2.15"/><circle cx="454.7" cy="508.2" r="2.15"/><circle cx="448.3" cy="531.4" r="2.15"/><circle cx="446.8" cy="508.7" r="2.15"/><circle cx="450.2" cy="508.7" r="2.15"/><circle cx="450.2" cy="433.9" r="2.15"/><circle cx="445.0" cy="530.7" r="2.15"/><circle cx="449.8" cy="486.4" r="2.15"/><circle cx="453.7" cy="485.9" r="2.15"/><circle cx="451.9" cy="407.9" r="2.15"/><circle cx="445.6" cy="457.9" r="2.15"/><circle cx="453.7" cy="431.9" r="2.15"/><circle cx="446.3" cy="511.2" r="2.15"/><circle cx="450.7" cy="484.4" r="2.15"/><circle cx="457.2" cy="484.4" r="2.15"/><circle cx="454.2" cy="459.2" r="2.15"/><circle cx="451.7" cy="459.2" r="2.15"/><circle cx="448.7" cy="380.4" r="2.15"/><circle cx="447.8" cy="483.4" r="2.15"/><circle cx="455.2" cy="482.9" r="2.15"/><circle cx="448.8" cy="460.2" r="2.15"/><circle cx="445.3" cy="429.7" r="2.15"/><circle cx="456.2" cy="526.7" r="2.15"/><circle cx="443.7" cy="379.6" r="2.15"/><circle cx="455.5" cy="429.4" r="2.15"/><circle cx="450.2" cy="526.4" r="2.15"/><circle cx="447.8" cy="513.7" r="2.15"/><circle cx="453.3" cy="557.7" r="2.15"/><circle cx="443.0" cy="411.0" r="2.15"/><circle cx="447.8" cy="411.0" r="2.15"/><circle cx="456.7" cy="480.9" r="2.15"/><circle cx="453.2" cy="462.2" r="2.15"/><circle cx="444.0" cy="515.6" r="2.15"/><circle cx="450.2" cy="559.6" r="2.15"/><circle cx="455.7" cy="462.6" r="2.15"/><circle cx="450.2" cy="463.1" r="2.15"/><circle cx="455.6" cy="376.2" r="2.15"/><circle cx="455.7" cy="523.2" r="2.15"/><circle cx="454.4" cy="414.1" r="2.15"/><circle cx="451.5" cy="517.1" r="2.15"/><circle cx="449.3" cy="478.4" r="2.15"/><circle cx="447.8" cy="522.4" r="2.15"/><circle cx="446.8" cy="464.6" r="2.15"/><circle cx="452.2" cy="522.2" r="2.15"/><circle cx="444.3" cy="424.9" r="2.15"/><circle cx="454.7" cy="477.9" r="2.15"/><circle cx="449.8" cy="424.7" r="2.15"/><circle cx="453.2" cy="465.6" r="2.15"/><circle cx="448.8" cy="416.1" r="2.15"/><circle cx="443.3" cy="476.4" r="2.15"/><circle cx="446.3" cy="476.4" r="2.15"/><circle cx="456.7" cy="476.4" r="2.15"/><circle cx="445.8" cy="519.6" r="2.15"/><circle cx="457.2" cy="467.6" r="2.15"/><circle cx="451.2" cy="467.6" r="2.15"/><circle cx="451.9" cy="417.9" r="2.15"/><circle cx="455.0" cy="421.9" r="2.15"/><circle cx="454.2" cy="468.6" r="2.15"/><circle cx="455.7" cy="473.5" r="2.15"/><circle cx="443.8" cy="469.6" r="2.15"/><circle cx="445.8" cy="473.0" r="2.15"/><circle cx="448.8" cy="471.6" r="2.15"/><circle cx="453.2" cy="525.6" r="2.15"/><circle cx="448.8" cy="469.0" r="2.15"/>
</g>
<g fill="#1BA0F7">
<circle cx="593.5" cy="359.8" r="2.15"/><circle cx="601.9" cy="513.8" r="2.15"/><circle cx="591.8" cy="410.3" r="2.15"/><circle cx="596.3" cy="462.3" r="2.15"/><circle cx="601.2" cy="460.8" r="2.15"/><circle cx="590.0" cy="512.3" r="2.15"/><circle cx="602.2" cy="463.8" r="2.15"/><circle cx="602.7" cy="411.8" r="2.15"/><circle cx="601.2" cy="412.0" r="2.15"/><circle cx="601.2" cy="516.0" r="2.15"/><circle cx="593.8" cy="459.8" r="2.15"/><circle cx="592.8" cy="412.3" r="2.15"/><circle cx="594.8" cy="464.3" r="2.15"/><circle cx="601.0" cy="407.3" r="2.15"/><circle cx="604.2" cy="459.3" r="2.15"/><circle cx="589.3" cy="464.8" r="2.15"/><circle cx="589.3" cy="458.8" r="2.15"/><circle cx="604.0" cy="413.3" r="2.15"/><circle cx="599.2" cy="413.3" r="2.15"/><circle cx="594.8" cy="414.2" r="2.15"/><circle cx="597.2" cy="466.2" r="2.15"/><circle cx="591.8" cy="404.8" r="2.15"/><circle cx="602.7" cy="456.8" r="2.15"/><circle cx="596.0" cy="555.2" r="2.15"/><circle cx="594.3" cy="404.3" r="2.15"/><circle cx="595.8" cy="456.3" r="2.15"/><circle cx="594.8" cy="467.7" r="2.15"/><circle cx="596.3" cy="404.0" r="2.15"/><circle cx="599.2" cy="455.8" r="2.15"/><circle cx="604.0" cy="403.3" r="2.15"/><circle cx="596.3" cy="416.7" r="2.15"/><circle cx="594.8" cy="454.3" r="2.15"/><circle cx="602.2" cy="454.3" r="2.15"/><circle cx="601.7" cy="418.2" r="2.15"/><circle cx="596.8" cy="470.2" r="2.15"/><circle cx="602.7" cy="401.3" r="2.15"/><circle cx="598.2" cy="453.3" r="2.15"/><circle cx="593.3" cy="452.8" r="2.15"/><circle cx="598.7" cy="471.2" r="2.15"/><circle cx="591.8" cy="419.7" r="2.15"/><circle cx="601.3" cy="523.7" r="2.15"/><circle cx="599.7" cy="504.2" r="2.15"/><circle cx="593.5" cy="504.1" r="2.15"/><circle cx="601.2" cy="451.9" r="2.15"/><circle cx="592.3" cy="472.2" r="2.15"/><circle cx="594.5" cy="370.7" r="2.15"/><circle cx="598.2" cy="398.6" r="2.15"/><circle cx="590.3" cy="421.5" r="2.15"/><circle cx="592.3" cy="450.4" r="2.15"/><circle cx="594.3" cy="474.2" r="2.15"/><circle cx="594.4" cy="562.5" r="2.15"/><circle cx="599.2" cy="449.4" r="2.15"/><circle cx="592.8" cy="422.7" r="2.15"/><circle cx="596.3" cy="422.7" r="2.15"/><circle cx="599.2" cy="422.7" r="2.15"/><circle cx="591.3" cy="474.7" r="2.15"/><circle cx="602.7" cy="474.9" r="2.15"/><circle cx="603.7" cy="448.9" r="2.15"/><circle cx="596.0" cy="373.5" r="2.15"/><circle cx="602.2" cy="423.7" r="2.15"/><circle cx="600.7" cy="499.9" r="2.15"/><circle cx="589.8" cy="476.7" r="2.15"/><circle cx="592.8" cy="446.9" r="2.15"/><circle cx="596.8" cy="446.9" r="2.15"/><circle cx="593.8" cy="425.2" r="2.15"/><circle cx="592.8" cy="477.2" r="2.15"/><circle cx="597.7" cy="425.7" r="2.15"/><circle cx="594.8" cy="530.0" r="2.15"/><circle cx="597.2" cy="393.9" r="2.15"/><circle cx="600.2" cy="445.9" r="2.15"/><circle cx="601.2" cy="393.7" r="2.15"/><circle cx="603.7" cy="445.4" r="2.15"/><circle cx="601.7" cy="426.7" r="2.15"/><circle cx="595.3" cy="478.7" r="2.15"/><circle cx="598.7" cy="478.7" r="2.15"/><circle cx="591.8" cy="444.9" r="2.15"/><circle cx="595.8" cy="444.9" r="2.15"/><circle cx="594.8" cy="428.1" r="2.15"/><circle cx="591.3" cy="480.1" r="2.15"/><circle cx="597.2" cy="495.4" r="2.15"/><circle cx="593.0" cy="340.9" r="2.15"/><circle cx="601.2" cy="494.9" r="2.15"/><circle cx="602.2" cy="429.1" r="2.15"/><circle cx="593.8" cy="481.1" r="2.15"/><circle cx="590.0" cy="533.1" r="2.15"/><circle cx="597.5" cy="390.4" r="2.15"/><circle cx="598.7" cy="442.4" r="2.15"/><circle cx="592.8" cy="441.9" r="2.15"/><circle cx="593.8" cy="493.9" r="2.15"/><circle cx="590.8" cy="430.6" r="2.15"/><circle cx="597.2" cy="430.6" r="2.15"/><circle cx="600.7" cy="534.7" r="2.15"/><circle cx="593.3" cy="431.1" r="2.15"/><circle cx="593.8" cy="535.4" r="2.15"/><circle cx="597.2" cy="440.4" r="2.15"/><circle cx="589.3" cy="492.4" r="2.15"/><circle cx="600.2" cy="431.6" r="2.15"/><circle cx="603.7" cy="431.6" r="2.15"/><circle cx="590.8" cy="483.6" r="2.15"/><circle cx="593.8" cy="439.9" r="2.15"/><circle cx="596.3" cy="491.9" r="2.15"/><circle cx="592.8" cy="491.4" r="2.15"/><circle cx="592.8" cy="484.6" r="2.15"/><circle cx="599.2" cy="386.9" r="2.15"/><circle cx="603.0" cy="490.9" r="2.15"/><circle cx="596.6" cy="383.3" r="2.15"/><circle cx="589.9" cy="383.8" r="2.15"/><circle cx="589.8" cy="434.1" r="2.15"/><circle cx="592.8" cy="434.6" r="2.15"/><circle cx="599.2" cy="434.6" r="2.15"/><circle cx="602.7" cy="434.6" r="2.15"/><circle cx="591.8" cy="437.0" r="2.15"/><circle cx="595.3" cy="437.0" r="2.15"/><circle cx="598.7" cy="437.0" r="2.15"/><circle cx="597.2" cy="487.1" r="2.15"/><circle cx="590.0" cy="539.2" r="2.15"/><circle cx="589.8" cy="488.5" r="2.15"/><circle cx="601.2" cy="437.1" r="2.15"/><circle cx="604.2" cy="437.1" r="2.15"/><circle cx="593.8" cy="489.1" r="2.15"/><circle cx="597.2" cy="434.5" r="2.15"/>
</g>
<g stroke="#181818" stroke-width="1.15" fill="none">
<line x1="428.3" x2="472.3" y1="471.3" y2="471.3"/><line x1="428.3" x2="472.3" y1="478.1" y2="478.1"/><line x1="450.3" x2="450.3" y1="471.3" y2="478.1"/>
</g>
<circle cx="450.3" cy="474.7" r="1.35" fill="#000"/>
<g stroke="#181818" stroke-width="1.15" fill="none">
<line x1="575.1" x2="619.1" y1="447.2" y2="447.2"/><line x1="575.1" x2="619.1" y1="453.5" y2="453.5"/><line x1="597.1" x2="597.1" y1="447.2" y2="453.5"/>
</g>
<circle cx="597.1" cy="450.4" r="1.35" fill="#000"/>
<path d="M362.2 316.8V574.0H685.2" fill="none" stroke="#4a4a4a" stroke-width="1.3"/>
<line x1="359.3" x2="362.2" y1="562.4" y2="562.4" stroke="#4a4a4a" stroke-width="1"/>
<text x="358.0" y="567" font-size="11.2" fill="#4D4D4D" text-anchor="end" style="font-family:'NanumGothic','Liberation Sans',sans-serif">1</text>
<line x1="359.3" x2="362.2" y1="503.9" y2="503.9" stroke="#4a4a4a" stroke-width="1"/>
<text x="357.0" y="508" font-size="11.2" fill="#4D4D4D" text-anchor="end">2</text>
<line x1="359.3" x2="362.2" y1="445.4" y2="445.4" stroke="#4a4a4a" stroke-width="1"/>
<text x="357.0" y="450" font-size="11.2" fill="#4D4D4D" text-anchor="end">3</text>
<line x1="359.3" x2="362.2" y1="386.9" y2="386.9" stroke="#4a4a4a" stroke-width="1"/>
<text x="357.0" y="391" font-size="11.2" fill="#4D4D4D" text-anchor="end">4</text>
<line x1="359.3" x2="362.2" y1="328.4" y2="328.4" stroke="#4a4a4a" stroke-width="1"/>
<text x="357.0" y="333" font-size="11.2" fill="#4D4D4D" text-anchor="end">5</text>
<line x1="450.3" x2="450.3" y1="574.0" y2="576.9" stroke="#4a4a4a" stroke-width="1"/>
<text x="450.3" y="589.0" font-size="13.7" fill="#4D4D4D" text-anchor="middle">AI</text>
<line x1="597.1" x2="597.1" y1="574.0" y2="576.9" stroke="#4a4a4a" stroke-width="1"/>
<text x="597.1" y="589.0" font-size="13.7" fill="#4D4D4D" text-anchor="middle">Human</text>
<text x="523.7" y="308.5" font-size="16.8" fill="#111" text-anchor="middle">Worth</text>
<text x="523.8" y="364" font-size="22.8" fill="#000" stroke="#000" stroke-width="0.35" letter-spacing="1.15" text-anchor="middle">***</text>
<text x="523.2" y="603.9" font-size="13.7" fill="#111" text-anchor="middle">Label</text>
</g>
</svg></div></body></html>
